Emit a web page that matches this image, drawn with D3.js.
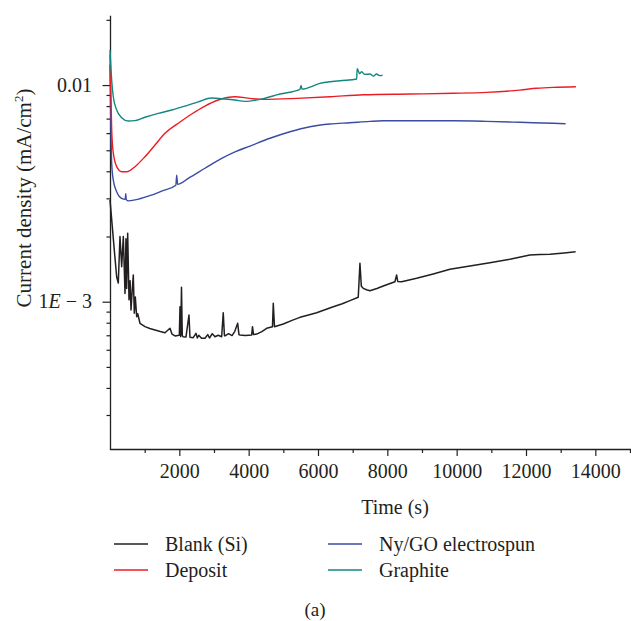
<!DOCTYPE html>
<html>
<head>
<meta charset="utf-8">
<script src="https://cdn.jsdelivr.net/npm/d3@7"></script>
<style>
  html, body { margin: 0; padding: 0; background: #fff; }
  svg { display: block; }
  text { font-family: "Liberation Serif", "DejaVu Serif", serif; fill: #231f20; }
</style>
</head>
<body>
<svg id="chart" width="631" height="621"></svg>
<script>
// ---------- data (time in s, current density in mA/cm^2) ----------
const seriesNames = ["Blank (Si)", "Deposit", "Ny/GO electrospun", "Graphite"];
const seriesColors = ["#231f20", "#ec1c24", "#3a4ca4", "#13877f"];

const blankTime = [0, 66, 124, 193, 239, 288, 337, 384, 433, 460, 480, 510, 548, 580, 606, 640, 672, 701, 730, 770, 800, 865, 1009, 1150, 1298, 1450, 1586, 1730, 1788, 1875, 2000, 2019, 2040, 2062, 2085, 2105, 2192, 2278, 2307, 2400, 2480, 2520, 2560, 2640, 2740, 2820, 2870, 2950, 3028, 3120, 3221, 3267, 3300, 3317, 3420, 3520, 3600, 3683, 3720, 3749, 3900, 4087, 4110, 4140, 4231, 4380, 4519, 4687, 4710, 4745, 4998, 5250, 5480, 5700, 5961, 6200, 6440, 6700, 6922, 7161, 7210, 7250, 7305, 7400, 7498, 7700, 7882, 8219, 8268, 8300, 8412, 8845, 9324, 9806, 10382, 10959, 11536, 12113, 12400, 12690, 13100, 13431];
const blankValue = [0.00295, 0.00222, 0.00173, 0.00130, 0.00122, 0.00200, 0.00145, 0.00200, 0.00109, 0.00195, 0.00115, 0.00207, 0.00102, 0.00125, 0.000916, 0.00112, 0.00133, 0.000884, 0.00105, 0.000853, 0.000880, 0.000795, 0.000767, 0.000752, 0.000740, 0.000728, 0.000719, 0.000754, 0.000709, 0.000695, 0.000700, 0.000948, 0.000690, 0.001165, 0.000700, 0.000689, 0.000688, 0.000868, 0.000685, 0.000682, 0.000715, 0.000680, 0.000700, 0.000678, 0.000678, 0.000705, 0.000680, 0.000712, 0.000689, 0.000700, 0.000689, 0.000890, 0.000700, 0.000695, 0.000712, 0.000698, 0.000730, 0.000795, 0.000705, 0.000702, 0.000698, 0.000702, 0.000767, 0.000705, 0.000709, 0.000728, 0.000754, 0.000767, 0.000983, 0.000767, 0.000789, 0.000820, 0.000847, 0.000866, 0.000890, 0.000918, 0.000948, 0.000978, 0.001011, 0.001048, 0.001504, 0.001180, 0.001153, 0.001135, 0.001124, 0.001150, 0.001181, 0.001237, 0.001328, 0.001240, 0.001237, 0.001282, 0.001342, 0.001411, 0.001461, 0.001514, 0.001570, 0.001642, 0.001650, 0.001654, 0.001680, 0.001701];

const depositTime = [0, 49, 95, 193, 337, 482, 721, 1009, 1298, 1586, 1970, 2356, 2740, 3123, 3605, 4038, 4421, 5384, 6345, 7305, 8652, 9901, 10864, 11824, 12306, 12785, 13440];
const depositValue = [0.0138, 0.00620, 0.00486, 0.00420, 0.00398, 0.00398, 0.00420, 0.00467, 0.00529, 0.00599, 0.00666, 0.00735, 0.00800, 0.00853, 0.00883, 0.00868, 0.00859, 0.00868, 0.00883, 0.00902, 0.00909, 0.00916, 0.00925, 0.00948, 0.00966, 0.00976, 0.00982];

const nygoTime = [0, 49, 95, 193, 337, 440, 453, 470, 528, 721, 1105, 1491, 1900, 1924, 1950, 2258, 2740, 3221, 3605, 4038, 4614, 5191, 5768, 6345, 6922, 7498, 7882, 8940, 9901, 10864, 11824, 12785, 13142];
const nygoValue = [0.0124, 0.00435, 0.00364, 0.00322, 0.00300, 0.00297, 0.00315, 0.00296, 0.00292, 0.00295, 0.00307, 0.00324, 0.00345, 0.00384, 0.00348, 0.00371, 0.00413, 0.00459, 0.00492, 0.00523, 0.00568, 0.00609, 0.00642, 0.00661, 0.00670, 0.00680, 0.00684, 0.00684, 0.00684, 0.00680, 0.00673, 0.00666, 0.00663];

const graphiteTime = [0, 49, 95, 193, 337, 528, 721, 1009, 1393, 1779, 2163, 2547, 2933, 3317, 3605, 3893, 4326, 4903, 5480, 5510, 5540, 6056, 6633, 7115, 7130, 7144, 7200, 7259, 7350, 7498, 7600, 7691, 7780, 7865];
const graphiteValue = [0.0145, 0.0105, 0.00883, 0.00767, 0.00707, 0.00682, 0.00685, 0.00710, 0.00740, 0.00767, 0.00800, 0.00837, 0.00871, 0.00862, 0.00853, 0.00841, 0.00859, 0.00909, 0.00955, 0.00995, 0.00958, 0.01018, 0.01047, 0.01066, 0.01190, 0.01181, 0.01130, 0.01152, 0.01120, 0.01124, 0.01100, 0.01124, 0.01105, 0.01112];

const xMajorTicks = [2000, 4000, 6000, 8000, 10000, 12000, 14000];
const xMinorTicks = [1000, 3000, 5000, 7000, 9000, 11000, 13000, 15000];
const yMajorTicks = [0.001, 0.01];

// ---------- layout ----------
const svg = d3.select("#chart");
const x = d3.scaleLinear().domain([0, 15000]).range([110, 630]);
const y = d3.scaleLog().domain([0.000209, 0.0209]).range([449, 15.7]);
const axisColor = "#231f20";

// axes
const gx = svg.append("g").attr("transform", "translate(0,449)");
gx.call(d3.axisBottom(x).tickValues(xMinorTicks).tickSize(4).tickFormat("").tickSizeOuter(0));
gx.call(g => g.select(".domain").remove());
const gx2 = svg.append("g").attr("transform", "translate(0,449)");
gx2.call(d3.axisBottom(x).tickValues(xMajorTicks).tickSize(7).tickPadding(8).tickFormat(d3.format("d")).tickSizeOuter(0));
gx2.call(g => g.select(".domain").remove());
gx2.selectAll("text").attr("font-size", 20).attr("font-family", "Liberation Serif").attr("fill", axisColor);
svg.append("line").attr("x1", 110).attr("x2", 631).attr("y1", 449.5).attr("y2", 449.5)
  .attr("stroke", axisColor).attr("stroke-width", 1.3);

const yMinor = y.ticks().filter(v => !yMajorTicks.some(m => Math.abs(m - v) < 1e-9));
const gy = svg.append("g").attr("transform", "translate(110.5,0)");
gy.call(d3.axisLeft(y).tickValues(yMinor).tickSize(4).tickFormat("").tickSizeOuter(0));
gy.call(g => g.select(".domain").remove());
const gy2 = svg.append("g").attr("transform", "translate(110.5,0)");
gy2.call(d3.axisLeft(y).tickValues(yMajorTicks).tickSize(8).tickFormat("").tickSizeOuter(0));
gy2.call(g => g.select(".domain").remove());
svg.append("line").attr("x1", 110.5).attr("x2", 110.5).attr("y1", 15.7).attr("y2", 450)
  .attr("stroke", axisColor).attr("stroke-width", 1.3);
svg.selectAll(".tick line").attr("stroke", axisColor).attr("stroke-width", 1.2);

// y tick labels
svg.append("text").attr("x", 92).attr("y", y(0.01)).attr("dy", "0.33em")
  .attr("text-anchor", "end").attr("font-size", 20).text("0.01");
const yl2 = svg.append("text").attr("x", 92).attr("y", y(0.001)).attr("dy", "0.33em")
  .attr("text-anchor", "end").attr("font-size", 20);
yl2.append("tspan").text("1");
yl2.append("tspan").attr("font-style", "italic").text("E");
yl2.append("tspan").text(" \u2212 3");

// axis titles
svg.append("text").attr("x", 395).attr("y", 514).attr("text-anchor", "middle")
  .attr("font-size", 20).text("Time (s)");
const yt = svg.append("text").attr("transform", "translate(31,198) rotate(-90)")
  .attr("text-anchor", "middle").attr("font-size", 21);
yt.append("tspan").text("Current density (mA/cm");
yt.append("tspan").attr("font-size", 13).attr("dy", -8).text("2");
yt.append("tspan").attr("dy", 8).text(")");

// curves
const plotData = [
  { t: blankTime, v: blankValue },
  { t: depositTime, v: depositValue },
  { t: nygoTime, v: nygoValue },
  { t: graphiteTime, v: graphiteValue }
];
const lineRaw = d3.line().x(d => x(d[0])).y(d => y(d[1]));
const lineSmooth = d3.line().x(d => x(d[0])).y(d => y(d[1])).curve(d3.curveMonotoneX);
// draw order: blank, nygo, deposit, graphite
[0, 2, 1, 3].forEach(i => {
  const pts = plotData[i].t.map((t, k) => [t, plotData[i].v[k]]);
  svg.append("path").datum(pts).attr("d", i === 0 ? lineRaw : lineSmooth)
    .attr("fill", "none").attr("stroke", seriesColors[i])
    .attr("stroke-width", i === 0 ? 1.5 : 1.4).attr("stroke-linejoin", "round");
});

// legend
const legendPos = [[114, 544], [114, 570], [328, 544], [328, 570]];
seriesNames.forEach((name, i) => {
  const [lx, ly] = legendPos[i];
  svg.append("line").attr("x1", lx).attr("x2", lx + 34).attr("y1", ly).attr("y2", ly)
    .attr("stroke", seriesColors[i]).attr("stroke-width", 1.4);
  svg.append("text").attr("x", lx + 51).attr("y", ly).attr("dy", "0.33em")
    .attr("font-size", 20).text(name);
});

svg.append("text").attr("x", 315).attr("y", 610).attr("dy", "0.33em")
  .attr("text-anchor", "middle").attr("font-size", 19).text("(a)");
</script>
</body>
</html>
